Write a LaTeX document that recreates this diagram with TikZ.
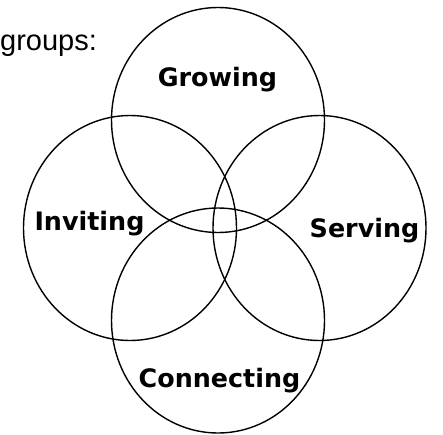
\documentclass[tikz,border=0pt]{standalone}
\usepackage{fontspec}
\setmainfont{Liberation Sans}
\newfontfamily\labelfont{DejaVu Sans}[BoldFont={DejaVu Sans Bold}]
\begin{document}
\begin{tikzpicture}[x=1pt,y=-1pt,
  ring/.style={draw=black,line width=1.4pt},
  lbl/.style={font=\labelfont\bfseries\fontsize{25.4}{28}\selectfont,inner sep=0pt,anchor=base},
  hdr/.style={font=\fontsize{29}{32}\selectfont,inner sep=0pt,anchor=base west}]
\useasboundingbox (0,0) rectangle (443,434);
\fill[white] (0,0) rectangle (443,434);
\node[hdr] (title) at (0,50) {groups:};
\draw[ring] (218,120) ellipse [x radius=106.5, y radius=112.5];
\draw[ring] (130,228) ellipse [x radius=106.5, y radius=112.5];
\draw[ring] (319.5,228) ellipse [x radius=106.5, y radius=112.5];
\draw[ring] (218,320.5) ellipse [x radius=106.5, y radius=112.5];
\node[lbl] (growing) at (217.5,86) {Growing};
\node[lbl] (inviting) at (89.5,230) {Inviting};
\node[lbl] (serving) at (364.5,237) {Serving};
\node[lbl] (connecting) at (219.5,387) {Connecting};
\end{tikzpicture}
\end{document}
